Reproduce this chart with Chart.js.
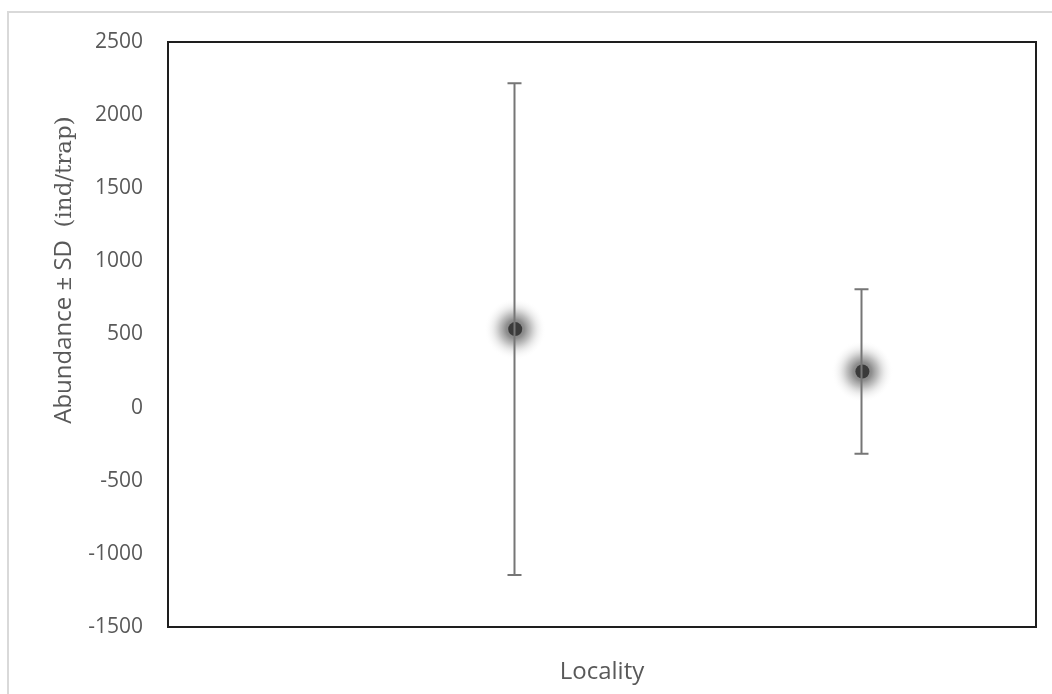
<!DOCTYPE html>
<html>
<head>
<meta charset="utf-8">
<script src="https://cdn.jsdelivr.net/npm/chart.js@4/dist/chart.umd.min.js"></script>
<style>
  html, body { margin: 0; padding: 0; background: #fff; }
  #wrap { width: 1052px; height: 694px; position: relative; }
</style>
</head>
<body>
<div id="wrap"><canvas id="c" width="1052" height="694"></canvas></div>
<script>
// ---- data ----
const categories = ['Locality 1', 'Locality 2'];
const xPositions = [1, 2];
const means = [537, 247];
const sds = [1681, 562];
const yTicks = [-1500, -1000, -500, 0, 500, 1000, 1500, 2000, 2500];
const xTitle = 'Locality';
const yTitleMain = 'Abundance \u00B1 SD  ';
const yTitleUnit = '(ind/trap)';

const points = xPositions.map((x, i) => ({ x: x, y: means[i] }));

const frame = {
  id: 'frame',
  beforeDraw(chart) {
    const ctx = chart.ctx;
    ctx.save();
    ctx.fillStyle = '#fff';
    ctx.fillRect(0, 0, chart.width, chart.height);
    ctx.strokeStyle = '#d9d9d9';
    ctx.lineWidth = 2;
    ctx.strokeRect(8, 12, chart.width + 20, chart.height + 20);
    ctx.restore();
  },
  beforeDatasetsDraw(chart) {
    const a = chart.chartArea;
    const ctx = chart.ctx;
    ctx.save();
    ctx.strokeStyle = '#1e1e1e';
    ctx.lineWidth = 2;
    ctx.strokeRect(a.left, a.top, a.right - a.left, a.bottom - a.top);
    // soft glow behind each marker
    const meta = chart.getDatasetMeta(0);
    const R = 31;
    meta.data.forEach(pt => {
      const g = ctx.createRadialGradient(pt.x, pt.y, 0, pt.x, pt.y, R);
      g.addColorStop(0, 'rgba(100,100,100,0.92)');
      g.addColorStop(0.3, 'rgba(115,115,115,0.8)');
      g.addColorStop(0.5, 'rgba(140,140,140,0.55)');
      g.addColorStop(0.72, 'rgba(185,185,185,0.25)');
      g.addColorStop(1, 'rgba(255,255,255,0)');
      ctx.fillStyle = g;
      ctx.beginPath();
      ctx.arc(pt.x, pt.y, R, 0, Math.PI * 2);
      ctx.fill();
    });
    ctx.restore();
  },
  afterDatasetsDraw(chart) {
    const ctx = chart.ctx;
    const xs = chart.scales.x, ys = chart.scales.y;
    ctx.save();
    ctx.strokeStyle = '#767676';
    ctx.lineWidth = 2;
    xPositions.forEach((xv, i) => {
      const px = Math.round(xs.getPixelForValue(xv)) - 0.5;
      const top = ys.getPixelForValue(means[i] + sds[i]);
      const bot = ys.getPixelForValue(means[i] - sds[i]);
      ctx.beginPath();
      ctx.moveTo(px, top); ctx.lineTo(px, bot);
      ctx.moveTo(px - 7, top); ctx.lineTo(px + 7, top);
      ctx.moveTo(px - 7, bot); ctx.lineTo(px + 7, bot);
      ctx.stroke();
    });
    // axis titles
    const a = chart.chartArea;
    ctx.fillStyle = '#595959';
    ctx.textBaseline = 'alphabetic';
    ctx.textAlign = 'center';
    ctx.font = '24px "Open Sans"';
    ctx.fillText(xTitle, (a.left + a.right) / 2, 679);
    // y title: two fonts
    ctx.textAlign = 'left';
    ctx.font = '24px "Open Sans"';
    const w1 = ctx.measureText(yTitleMain).width;
    ctx.font = '23px "DejaVu Serif"';
    const w2 = ctx.measureText(yTitleUnit).width;
    const total = w1 + w2;
    ctx.translate(71, 270);
    ctx.rotate(-Math.PI / 2);
    ctx.font = '24px "Open Sans"';
    ctx.fillText(yTitleMain, -total / 2, 0);
    ctx.font = '23px "DejaVu Serif"';
    ctx.fillText(yTitleUnit, -total / 2 + w1, 0);
    ctx.restore();
  }
};

new Chart(document.getElementById('c'), {
  type: 'scatter',
  data: {
    datasets: [{
      label: 'Abundance',
      data: points,
      pointRadius: 7,
      pointHoverRadius: 7,
      pointBackgroundColor: '#3a3a3a',
      pointBorderWidth: 0,
      pointBorderColor: '#3a3a3a'
    }]
  },
  options: {
    responsive: false,
    animation: false,
    events: [],
    layout: { padding: { left: 0, top: 42, right: 16, bottom: 67 } },
    plugins: { legend: { display: false }, tooltip: { enabled: false } },
    scales: {
      x: {
        type: 'linear', min: 0, max: 2.5,
        display: false
      },
      y: {
        type: 'linear', min: -1500, max: 2500,
        afterFit(s) { s.width = 168; },
        afterBuildTicks(s) { s.ticks = yTicks.map(v => ({ value: v })); },
        grid: { display: false, drawTicks: false },
        border: { display: false },
        ticks: {
          padding: 25,
          color: '#595959',
          font: { family: 'Open Sans', size: 21 },
          callback: v => String(v)
        }
      }
    }
  },
  plugins: [frame]
});
</script>
</body>
</html>
